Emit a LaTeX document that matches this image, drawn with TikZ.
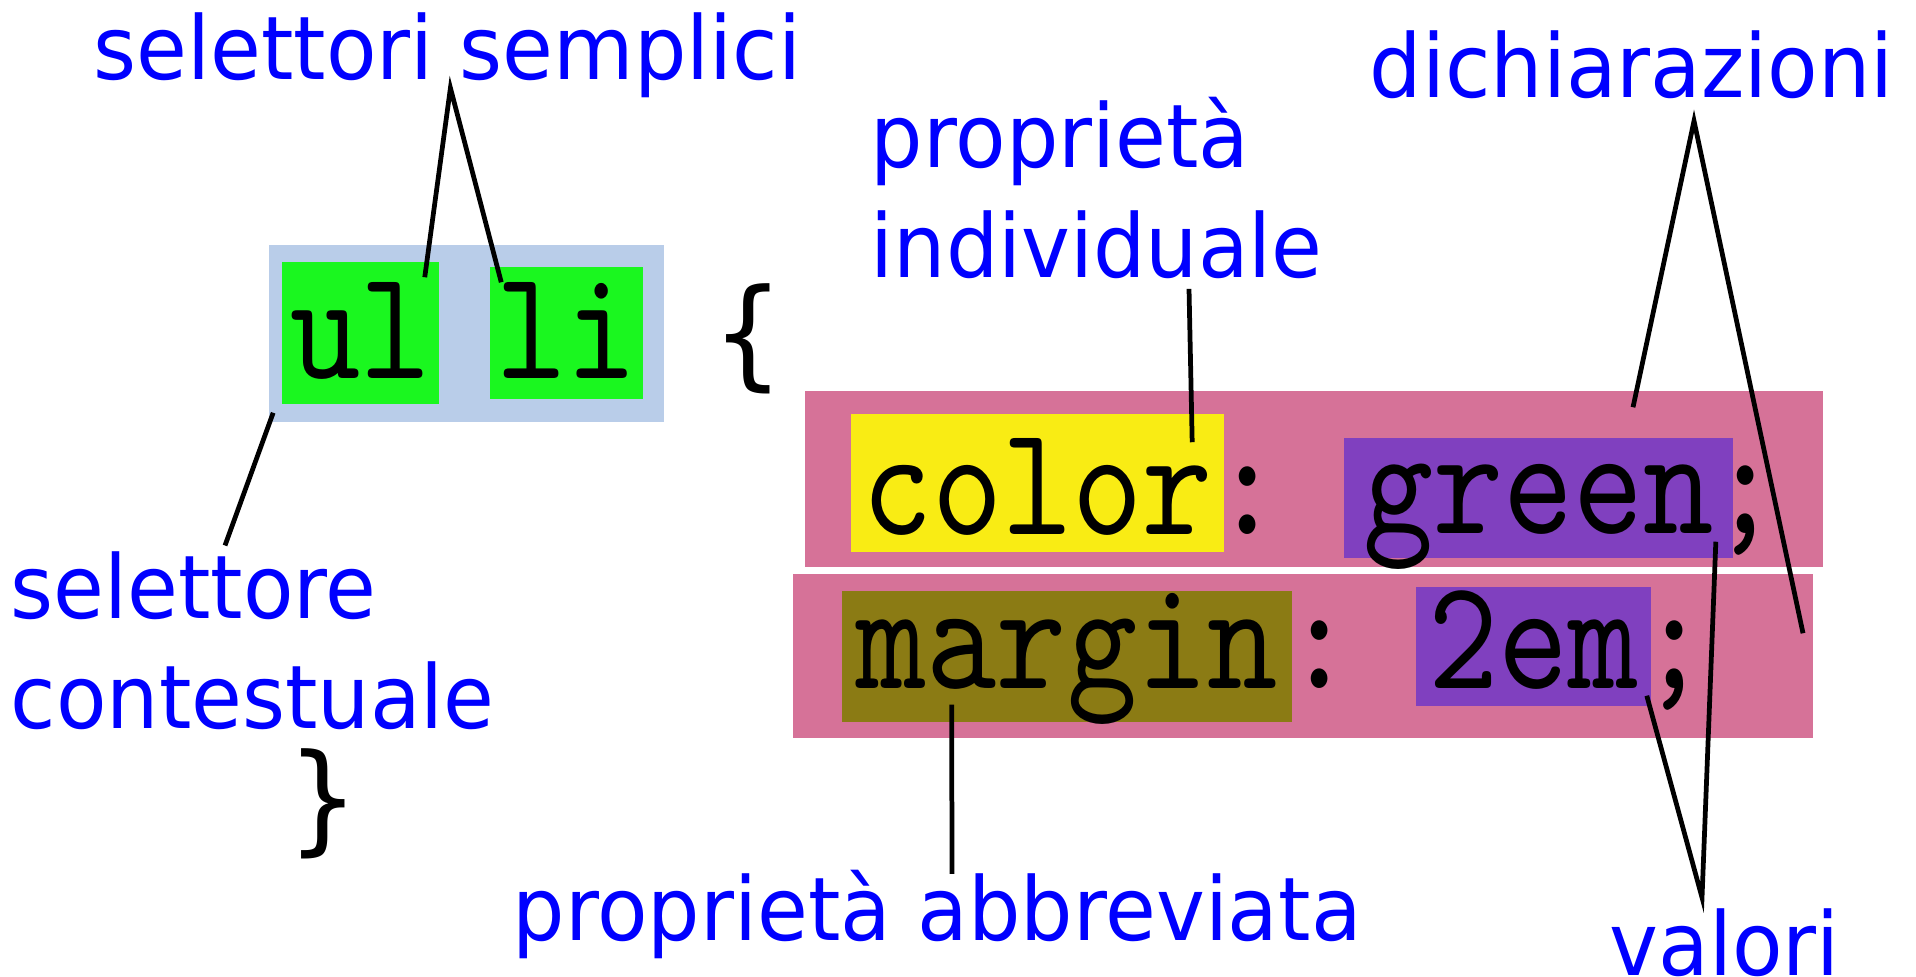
\documentclass[tikz,border=0pt]{standalone}
\usepackage{fontspec}
\usepackage{tikz}
\newfontfamily\lblfont{DejaVu Sans}[FakeStretch=0.94]
\newfontfamily\codefont{lmmono10-regular.otf}[FakeStretch=0.85]
\definecolor{selbg}{RGB}{185,205,233}
\definecolor{selgreen}{RGB}{26,247,31}
\definecolor{declpink}{RGB}{214,114,152}
\definecolor{propyellow}{RGB}{249,236,20}
\definecolor{propolive}{RGB}{139,123,20}
\definecolor{valpurple}{RGB}{128,64,191}

\begin{document}
\begin{tikzpicture}[
	x=0.01cm, y=-0.01cm,
	lbl/.style={anchor=base west, inner sep=0pt, align=left, text=blue,
		font=\lblfont\fontsize{25}{31}\selectfont},
	brace/.style={anchor=base, inner sep=0pt, font=\lblfont\fontsize{34}{40}\selectfont},
	code/.style={anchor=base, inner sep=0pt, font=\codefont\fontsize{44.7}{50}\selectfont},
	codebox/.style n args={4}{code, fill=#1, minimum width=#2cm, text height=#3cm, text depth=#4cm},
	panel/.style={inner sep=0pt, fill=#1},
	pointer/.style={line width=1.35pt}
	]
	\useasboundingbox (0,0) rectangle (1916,976);

	% background panels
	\node[panel=selbg, minimum width=3.95cm, minimum height=1.77cm] (sel) at (466.5,333.5) {};
	\node[panel=declpink, minimum width=10.18cm, minimum height=1.76cm] (decl1) at (1314,479) {};
	\node[panel=declpink, minimum width=10.20cm, minimum height=1.64cm] (decl2) at (1303,656) {};

	% selector
	\node[codebox={selgreen}{1.57}{1.16}{0.26}] (ul) at (360.5,378) {ul};
	\node[codebox={selgreen}{1.53}{1.11}{0.21}] (li) at (566.5,378) {li};
	\node[brace] (open) at (748.5,374) {\{};
	\node[brace] (close) at (323,839) {\}};

	% declarations
	\node[codebox={propyellow}{3.73}{1.20}{0.18}] (color) at (1037.5,534) {color};
	\node[code] (colon1) at (1248,534) {:};
	\node[codebox={valpurple}{3.89}{0.95}{0.25}] (green) at (1538.5,533) {green};
	\node[code] (semi1) at (1746,533) {;};
	\node[codebox={propolive}{4.49}{0.97}{0.34}] (margin) at (1067,688) {margin};
	\node[code] (colon2) at (1320,688) {:};
	\node[codebox={valpurple}{2.35}{1.01}{0.18}] (em) at (1533.5,688) {2em};
	\node[code] (semi2) at (1675,688) {;};

	% labels (multi-line ones sit on their last baseline)
	\node[lbl] (sempl) at (93,80) {selettori semplici};
	\node[lbl] (ctx) at (10,728) {selettore\\contestuale};
	\node[lbl] (indiv) at (870,277) {proprietà\\individuale};
	\node[lbl] (dich) at (1369,98) {dichiarazioni};
	\node[lbl] (abbr) at (512,940) {proprietà abbreviata};
	\node[lbl] (val) at (1609,975) {valori};

	% pointers
	\draw[pointer] ([shift={(-15,16)}]ul.north east) -- ([shift={(3,8)}]sempl.base) -- ([shift={(12,16)}]li.north west);
	\draw[pointer] ([shift={(5,-10)}]sel.south west) -- ([shift={(215,-6)}]ctx.north west);
	\draw[pointer] ([shift={(319,10)}]indiv.south west) -- ([shift={(342,29)}]color.north west);
	\draw[pointer] ([shift={(829,17)}]decl1.north west) -- ([shift={(325,21)}]dich.south west) -- ([shift={(-11,60)}]decl2.north east);
	\draw[pointer] ([shift={(-18,-17)}]green.south east) -- ([shift={(93,-10)}]val.north west) -- ([shift={(-5,-11)}]em.south east);
	\draw[pointer] ([shift={(110,-18)}]margin.south west) -- ([shift={(440,5)}]abbr.north west);
\end{tikzpicture}
\end{document}
